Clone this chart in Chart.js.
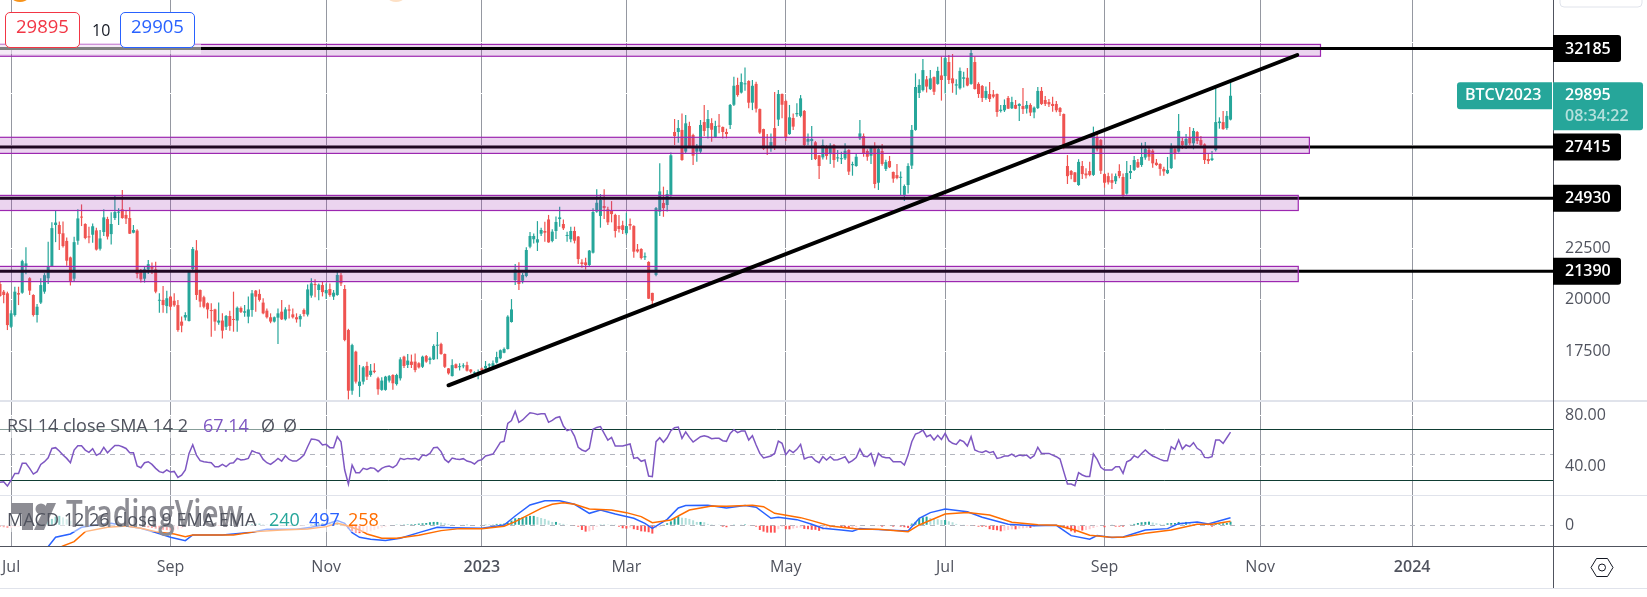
<!DOCTYPE html>
<html>
<head>
<meta charset="utf-8">
<title>BTCV2023</title>
<script src="https://cdn.jsdelivr.net/npm/chart.js@4"></script>
<style>
  html, body { margin: 0; padding: 0; background: #fff; overflow: hidden; }
  canvas { display: block; }
  .box { position: absolute; top: 12px; width: 73px; height: 34px; line-height: 34px; text-align: center;
         background: #fff; border: 1px solid; border-radius: 5px; font: 18.5px "Open Sans", sans-serif; }
  #sell { left: 5px; color: #f23645; border-color: #f23645; }
  #buy { left: 120px; color: #2962ff; border-color: #2962ff; }
  #qty { position: absolute; left: 92px; top: 12px; line-height: 36px; color: #131722; font: 16px/36px "Open Sans", sans-serif; }
</style>
</head>
<body>
<canvas id="chart" width="1647" height="597"></canvas>
<div class="box" id="sell">29895</div>
<div id="qty">10</div>
<div class="box" id="buy">29905</div>
<script>
// ===============================
// Data
// ===============================
const FONT = '"Open Sans", sans-serif';

const barLabels = Array.from({ length: 420 }, (_, i) => String(i));
const tickBars = [3, 46, 88, 130, 169, 212, 255, 298, 340, 381];
const tickLabels = ["Jul", "Sep", "Nov", "2023", "Mar", "May", "Jul", "Sep", "Nov", "2024"];
const priceTicks = [32500, 30000, 27500, 25000, 22500, 20000, 17500];
const priceLabels = [22500, 20000, 17500];
const rsiTicks = [80, 40];
const macdTicks = [0];

const open = [
  20770,20400,20320,18700,19270,20330,20350,21640,21050,20240,
  19270,19870,20400,21050,21640,23630,23630,23230,22860,22060,
  21030,22870,24020,23680,23080,23160,23370,22480,23290,23920,
  23190,23970,24230,24390,24120,23970,23260,23360,21450,21030,
  21480,21640,21480,19960,20000,19700,20160,19960,19750,18950,
  19150,18980,21500,22400,20480,20130,19840,19510,19540,18900,
  19000,18700,19220,19060,19000,19610,19380,19190,19510,20450,
  20290,19870,19480,19160,18950,19140,19430,19060,19540,19300,
  19160,19060,19510,19290,20210,20770,20480,20720,20320,20530,
  20160,20240,21200,20530,18540,15600,17490,15830,16040,16800,
  16360,16570,16200,15640,15640,16090,16360,15920,16200,17250,
  16850,17010,17010,
  16930,16760,17280,17090,17120,17780,17860,17380,16680,16310,
  16880,16740,16780,16840,16630,16440,16420,16680,16680,16820,
  16770,16960,17170,17440,17620,18930,20960,21320,20930,21160,
  22580,22940,22780,23210,23340,23900,22860,23340,23920,23680,
  23100,22940,23340,23070,21820,21820,21690,22290,24280,24070,
  24550,24390,24310,24120,23580,23620,23230,23680,23580,22450,
  22470,22060,21840,20340,21210,24280,24700,24600,25090,28140,
  28140,28240,27190,28430,27990,27190,27190,28620,28330,28570,
  27900,28430,28380,28140,28480,29460,30420,30050,30450,30610,
  29560,30470,29250,28280,27460,27430,28330,28740,29980,29640,
  28040,28820,29000,28920,29160,27670,27700,27640,27010,26910,
  27430,27070,27510,26860,26820,26860,27270,26530,26490,27830,
  27940,27220,26990,27350,25680,27220,26350,26730,26200,26050,
  25920,25090,25570,26510,28240,30030,30170,30690,30220,30800,
  30470,30880,30850,31530,30740,30390,30260,30720,30770,30470,
  31530,30470,30370,29790,29980,29960,29980,29160,29190,29790,
  29290,29450,29400,29400,29270,29450,29090,29300,30130,29690,
  29590,29500,29500,29300,29010,26490,26250,26180,25570,26490,
  26130,26250,26060,27880,27750,26100,26000,25810,25750,26250,
  25960,25150,26150,26300,26680,26540,26900,27270,27230,26650,
  26590,26350,26140,26390,27310,27190,27700,27510,27860,27590,
  28140,27750,27540,26830,26780,27270,28570,28620,28330,28740
];
const high = [
  20900,20480,20400,19500,20640,20640,21950,22550,21100,20280,
  19800,21050,21300,22820,23770,24320,23800,23800,23030,22100,
  23060,24390,24630,23720,23550,23710,23500,23390,24390,24030,
  24250,25040,24440,25330,24330,24490,23630,23420,21500,21640,
  21940,21810,21850,20320,20670,20450,20200,20320,20000,19200,
  19400,21450,22570,22900,20500,20200,19880,19840,19570,19870,
  19350,19270,19480,20400,19680,19680,19750,20160,20480,20480,
  20510,20080,19580,19350,19200,19590,20000,19640,19770,19590,
  19350,19300,19590,20750,21050,21000,20800,20900,20800,20800,
  20480,21350,21300,20720,18600,17870,17540,16850,16800,17000,
  16900,16930,16280,16250,16320,16360,16400,16420,17220,17300,
  17380,17350,17400,
  16980,17300,17330,17250,17850,18440,17920,17400,16700,17120,
  16920,16930,16930,17000,16640,16540,16630,16730,17040,16930,
  17060,17490,17600,17690,19260,20040,21740,21820,21300,22550,
  23290,23220,23820,23500,23790,24120,23420,24040,24520,23900,
  23310,23550,23550,23100,21970,22040,22420,24440,25360,25130,
  25360,24520,24790,24180,24120,23840,24230,23950,23620,22710,
  22500,22300,21870,20350,24500,26620,25490,25330,27150,28770,
  28720,29040,28960,28640,28050,27560,28720,29450,29200,28800,
  28690,29010,28400,28300,29500,30820,30770,30980,31260,30650,
  30660,30580,29280,28300,28040,28070,30080,30170,30000,29700,
  29450,29040,29530,29930,29200,28070,28430,27700,27030,27780,
  27500,27590,27560,27270,27180,27590,27300,26700,27070,28720,
  28070,27300,27450,27640,27400,27560,26800,26980,26230,26590,
  26220,25600,26620,28480,30980,30690,31680,30850,31140,30830,
  31300,31790,31790,31870,31920,30690,31270,31060,31240,32110,
  31790,30550,30420,30340,30560,30170,30000,29450,29720,29880,
  29850,29690,29530,30270,29640,29530,29380,30320,30320,29880,
  29740,29850,29640,29350,29030,27020,26300,26200,26820,26730,
  26380,26700,28400,28070,27800,26150,26170,26130,26130,26570,
  26130,26730,26540,26980,26830,27620,27650,27380,27300,26830,
  26620,26460,26930,27590,27400,29010,27860,28040,28380,28330,
  28190,27950,27590,27070,27220,30400,28850,29160,29160,30660
];
const low = [
  20150,19835,18540,18640,19200,19750,20300,21250,20240,19200,
  18900,19800,20300,20770,21600,22800,22420,22540,21660,20700,
  20900,22680,23580,22940,22750,22770,22400,22400,23100,22930,
  22690,23870,23630,23940,23680,23200,23230,21050,20840,20840,
  21260,21260,20320,19380,19380,19350,19500,19670,18460,18430,
  19000,18950,21400,20000,19650,19600,19100,18220,18510,18800,
  18130,18540,18510,18460,18460,19370,19190,18870,19190,19430,
  19920,19300,19100,18870,18900,17860,19030,19000,19100,19100,
  18900,18700,19200,19200,20100,20130,19990,20170,20050,20150,
  20000,20200,20680,18000,15180,15400,15950,15300,15900,16120,
  16280,16450,15400,15600,15600,16000,15650,15850,16100,16700,
  16700,16700,16500,
  16680,16700,16960,16880,17090,17120,17340,16700,16380,16290,
  16680,16580,16690,16530,16440,16370,16150,16440,16650,16690,
  16740,16920,17130,17420,17600,18900,20720,20480,20800,21100,
  22500,22740,22370,23100,22820,22770,22800,22950,23550,23390,
  22820,22800,22740,21740,21560,21480,21640,22250,24230,23500,
  23920,23630,23760,23020,23270,23200,23150,23400,22050,22290,
  21960,21930,20040,19750,21150,24070,24030,24280,25000,27510,
  27620,26740,27100,27400,26540,26700,27100,27950,27830,27670,
  27850,28080,27830,27830,28280,29400,29850,30000,30140,29290,
  29200,29080,28040,27270,27020,27180,27270,28430,28800,27700,
  28000,28240,28880,28850,27430,27500,26780,26780,25860,26810,
  26800,26590,26410,26700,26590,26780,26060,26020,26450,27750,
  26940,26750,26590,25410,25330,26500,26250,26390,25680,25850,
  25090,24800,25160,26350,28200,29790,30100,30050,30180,29930,
  30430,29660,30000,30470,30040,29950,30200,30300,30360,30430,
  30200,29790,29590,29700,29590,29770,28880,29080,29110,29250,
  29250,29250,28670,29010,29040,28920,28800,29250,29450,29400,
  29350,29120,29100,28910,27300,25620,25850,25700,25530,25860,
  25890,25990,26010,27200,26100,25440,25600,25380,25620,25900,
  25000,25100,25860,26250,26400,26450,26800,26750,26410,26500,
  26020,26020,26100,26350,26810,27150,27310,27310,27500,27300,
  27560,27430,26590,26590,26730,27200,28300,28250,28250,28700
];
const close = [
  20190,20240,18780,19350,20400,20260,21880,21770,20450,19270,
  19670,20720,21200,21610,23480,23750,23200,22610,21900,20920,
  22800,23950,23990,23000,23030,23570,22440,22980,24000,23070,
  23680,24260,24260,23970,23940,23210,23390,21260,21000,21480,
  21730,21510,20400,20000,19750,20080,19670,19740,18540,18750,
  19270,21370,22470,20240,19920,19670,19540,19460,18950,19000,
  18510,19220,18740,19030,19620,19420,19450,19540,20320,20160,
  20000,19350,19160,18950,19160,19350,19060,19540,19480,19160,
  19060,19220,19320,20510,20800,20720,20740,20380,20480,20240,
  20350,21210,20800,18060,15600,17810,16040,16040,16730,16280,
  16570,16510,15670,16090,16280,16310,15960,16360,17120,16800,
  17060,16850,16600,
  16730,17250,17010,17170,17770,17820,17380,16760,16440,16840,
  16700,16780,16810,16570,16520,16470,16460,16600,16800,16880,
  16930,17230,17560,17620,19190,19540,21480,20770,21210,22420,
  23100,23100,22940,23390,23260,22790,23310,23780,24000,23470,
  23150,23340,22870,21980,21740,21690,22390,24260,24710,24840,
  24460,23760,24160,23340,23440,23390,23580,23600,22340,22350,
  22030,22120,20060,19960,24450,25260,24450,25130,27010,27940,
  28330,26780,28560,27430,26990,27400,28480,28190,28770,28250,
  28430,28400,28140,28040,29450,30380,29930,30560,30500,29560,
  30380,29270,28110,27330,27400,27650,27400,29980,29460,27880,
  28850,28400,29060,29770,27510,27800,27800,26830,26490,27510,
  26980,27480,26780,26910,26870,27230,26220,26580,26940,28070,
  27100,26940,27430,25620,27310,26590,26680,26430,25880,25910,
  25960,25520,26490,28240,30320,30420,31140,30340,30740,30090,
  31100,30660,31720,30660,30500,30450,31100,30790,30390,31970,
  30220,29980,29790,30130,29740,29850,29110,29220,29450,29270,
  29590,29270,29500,29250,29450,29080,29320,30130,29500,29500,
  29480,29400,29190,29110,27510,26000,26060,25720,26690,26100,
  26040,26060,27950,27300,26260,25680,25700,25680,26000,26000,
  25050,26150,26250,26780,26430,26930,27310,26940,26620,26540,
  26350,26230,26300,27380,27070,28190,27510,27800,27590,28190,
  27700,27510,26780,26730,26860,28620,28650,28280,28920,29895
];

const rsiValues = [
  27.8,28.3,24.9,29.6,34.8,34.8,42.7,42.7,38.8,34.3,
  36.2,41.9,44.0,47.1,54.4,55.0,52.4,49.2,46.6,43.2,
  53.1,56.5,56.5,53.1,51.3,54.2,49.0,50.5,55.2,51.0,
  53.9,56.8,56.8,55.7,54.4,51.0,51.0,40.6,39.3,43.2,
  44.0,41.9,38.8,36.2,35.4,37.5,35.9,36.4,31.7,33.5,
  37.5,50.5,57.3,49.2,44.8,44.0,43.5,43.2,40.1,40.1,
  41.9,40.1,42.7,43.2,46.6,45.3,45.8,46.6,52.6,51.3,
  50.5,45.8,43.2,41.9,44.0,46.6,44.5,48.7,45.8,44.5,
  44.5,46.6,49.2,55.7,61.8,61.5,60.5,57.1,57.6,55.0,
  55.0,63.6,59.7,37.5,26.5,41.4,35.4,35.4,38.8,38.0,
  39.3,38.8,36.2,38.8,40.1,40.6,39.3,41.4,46.6,45.8,
  46.6,46.1,46.6,45.3,
  49.2,48.7,50.5,55.0,55.3,51.9,45.8,43.5,46.9,46.1,
  45.8,46.4,44.5,43.8,42.2,44.8,45.6,48.5,49.2,50.0,
  54.5,59.2,60.0,74.1,76.2,83.5,74.9,76.7,79.6,82.4,
  81.9,81.1,81.6,81.6,74.9,76.4,78.5,79.3,72.0,68.3,
  69.4,64.1,55.3,53.2,52.1,54.5,69.4,70.9,71.5,66.2,
  61.0,63.1,56.3,56.3,56.3,57.1,57.9,46.6,47.2,44.3,
  45.3,32.8,32.3,59.7,62.8,59.2,62.8,68.3,70.7,71.2,
  62.3,67.3,63.1,59.4,61.5,63.6,64.4,63.6,62.1,62.3,
  62.3,60.5,60.0,66.2,69.1,66.8,68.1,68.1,61.0,64.4,
  57.1,50.5,46.9,47.7,48.5,50.5,60.2,58.4,49.5,53.2,
  51.1,53.7,57.6,46.1,47.4,47.9,44.8,43.2,47.9,45.3,
  47.9,45.3,45.6,
  46.6,47.9,43.2,44.8,47.2,53.9,48.5,47.9,50.5,41.4,
  50.5,47.9,47.2,47.2,44.0,44.0,44.0,41.4,49.2,59.7,
  65.7,66.8,68.8,63.6,64.9,61.0,64.7,61.5,66.2,60.5,
  58.4,57.6,61.0,59.7,56.3,63.6,53.2,51.9,51.3,52.6,
  51.1,51.9,46.6,47.2,48.5,48.5,50.0,47.9,49.2,48.7,
  49.2,46.6,48.7,55.3,50.5,50.5,50.5,49.2,47.9,46.1,
  36.2,26.5,26.5,25.2,35.4,33.6,32.5,32.5,50.0,45.8,
  39.6,37.5,37.5,37.5,40.1,40.1,34.9,44.0,45.3,48.7,
  47.2,50.5,53.2,50.5,48.5,47.2,45.8,44.8,44.8,55.8,
  53.7,61.0,53.9,57.1,55.8,58.9,54.5,52.6,47.4,47.2,
  47.9,61.0,61.0,58.4,62.8,67.14
];
const rsiGuides = [70, 30];
const rsiMiddle = 50;

const macdHist = [
  -90,-130,-180,-160,-120,-100,-60,-40,-20,20,
  60,100,160,260,420,560,620,520,400,300,
  220,160,120,80,60,40,20,10,0,-10,
  -20,-30,-40,-30,-20,-10,-10,-30,-60,-100,
  -140,-180,-220,-260,-300,-320,-350,-330,-280,-200,
  -100,-60,-20,10,30,30,20,10,0,-10,
  -10,10,20,30,30,40,40,60,80,100,
  110,80,60,40,20,10,0,0,-10,-10,
  -20,-20,-10,20,60,100,120,130,120,100,
  150,180,120,-60,-220,-400,-480,-520,-500,-460,
  -400,-320,-240,-160,-80,-40,0,20,40,50,
  60,70,80,110,
  130,150,200,220,220,180,130,90,60,40,
  20,10,10,0,0,0,0,10,20,20,
  90,90,110,180,310,460,480,530,570,620,
  620,550,480,420,310,220,220,130,90,20,
  0,-44,-90,-310,-420,-400,-310,-90,20,20,
  40,20,40,-90,-200,-220,-150,-260,-310,-400,
  -420,-460,-550,-200,-110,20,130,260,460,590,
  500,480,420,330,220,220,200,90,60,40,
  20,-90,-130,-44,20,0,40,60,-40,-40,
  -90,-310,-420,-484,-484,-490,-260,-90,-260,-270,
  -220,-180,-150,-240,-260,-300,-300,-370,-310,-220,
  -200,-130,-90,
  -130,-180,-220,-180,-130,-20,0,0,0,0,
  -20,-90,-40,-40,-90,-40,-90,-130,-180,
  110,220,440,530,570,480,440,400,350,350,
  260,200,90,40,20,-20,0,-20,-90,-90,
  -90,-260,-310,-330,-400,-350,-310,-270,-270,-220,
  -200,-180,-180,-90,-44,-44,-20,0,-20,-20,
  -90,-130,-260,-400,-484,-350,-350,-310,-260,-180,
  -90,0,-130,-40,40,-90,-90,-90,0,20,
  90,150,200,220,240,180,130,90,60,130,
  150,150,220,180,220,200,90,40,40,0,
  -20,-90,90,110,130,150,240
];
const macdBars = [
  2, 8, 13, 15, 19, 22, 26, 30, 34, 38, 42, 46, 50, 52, 60, 68, 72, 80, 84, 88, 91, 93, 95, 97, 100, 104, 108,
  113, 118, 122, 130, 136, 139, 143, 147, 151, 155, 159, 162, 166, 171, 174, 176, 180, 183, 185, 191, 196, 201, 204, 208, 210, 215, 219, 222,
  227, 230, 232, 237, 245, 248, 251, 255, 261, 265, 272, 279, 285, 289, 294, 296, 300, 303, 309, 315, 318, 323, 326, 332
];
const macdLine = [
  -3600, -2400, -1410, -794, -574, -134, 20, 130, -46, -200, -486, -794, -1014, -640, -640, -464, -266, -266, -134, 64, 306, 130, -486, -794, -926, -1014, -860,
  -486, -134, -156, -200, 20, 614, 1340, 1626, 1626, 1384, 790, 1010, 746, 460, 130, -200, 394, 1142, 1306, 1328, 1142, 1306, 1196, 460, 526, 372, 64, -200,
  -310, -398, -222, -288, -376, 460, 834, 1076, 890, 526, 64, -24, 0, -684, -926, -684, -816, -772, -310, -222, 108, 218, 86, 497
];
const signalBars = [
  4, 10, 17, 20, 23, 29, 34, 38, 42, 47, 50, 52, 63, 69, 76, 83, 88, 91, 93, 97, 99, 103, 107,
  113, 119, 124, 130, 136, 139, 146, 149, 152, 155, 159, 165, 169, 173, 176, 181, 186, 192, 196, 203, 206, 209, 216, 219, 224,
  227, 232, 237, 245, 248, 255, 261, 267, 273, 280, 285, 290, 294, 299, 303, 309, 316, 323, 327, 332
];
const signalLine = [
  -3000, -2200, -1366, -1080, -420, -134, -46, -200, -420, -574, -750, -640, -640, -420, -310, -244, -90, 130, 20, -310, -574, -860, -860,
  -662, -354, -222, -222, -68, 240, 1120, 1384, 1494, 1384, 1076, 1010, 834, 570, 174, 350, 1010, 1274, 1252, 1318, 1230, 790, 504, 306, -46,
  -134, -266, -266, -420, 20, 746, 850, 680, 196, 42, 0, -310, -662, -772, -794, -530, -310, 64, 64, 258
];

const levels = [32185, 27415, 24930, 21390];
const bandTops = [32385, 27882, 25066, 21625];
const bandBottoms = [31810, 27102, 24334, 20888];
const bandEnds = [356, 353, 350, 350];
const trendBars = [121, 350];
const trendPrices = [15862, 31871];

const lastPrice = 29895;
const symbol = "BTCV2023";
const countdown = "08:34:22";

// ===============================
// Helpers
// ===============================
const UP = "#26a69a";
const DOWN = "#ef5350";
const TEXT = "#50535e";
const PANE_LINE = "#e0e3eb";

const candleColors = open.map((o, i) => (close[i] >= o ? UP : DOWN));

const histColors = macdHist.map((v, i) => {
  const prev = i > 0 ? macdHist[i - 1] : 0;
  if (v >= 0) return v >= prev ? "#26a69a" : "#b2dfdb";
  return v <= prev ? "#ff5252" : "#ffcdd2";
});

const sparse = (bars, values) => {
  const out = barLabels.map(() => null);
  bars.forEach((b, i) => { out[b] = values[i]; });
  return out;
};

const fixAxis = size => scale => {
  scale.paddingLeft = scale.paddingRight = scale.paddingTop = scale.paddingBottom = 0;
  if (scale.isHorizontal()) scale.height = size; else scale.width = size;
};

const yAxis = (min, max, weight, ticks, label) => ({
  type: "linear",
  position: "right",
  stack: "panes",
  stackWeight: weight,
  min,
  max,
  border: { display: false },
  grid: { color: "#ffffff", lineWidth: 1, drawTicks: false, z: -1 },
  afterBuildTicks: s => { s.ticks = ticks.map(value => ({ value })); },
  afterFit: fixAxis(94),
  ticks: {
    padding: 12,
    autoSkip: false,
    color: TEXT,
    font: { family: FONT, size: 16 },
    callback: label
  }
});

// ===============================
// Drawings on top of the library's marks
// ===============================
const drawings = {
  id: "drawings",
  beforeDatasetsDraw(chart) {
    const { ctx, scales, chartArea } = chart;
    const rsi = scales.yRsi, macd = scales.yMacd;

    // RSI bounds and middle lines
    ctx.save();
    ctx.lineWidth = 1;
    ctx.strokeStyle = "#0f3d33";
    rsiGuides.forEach(v => {
      const y = Math.round(rsi.getPixelForValue(v)) + 0.5;
      ctx.beginPath(); ctx.moveTo(chartArea.left, y); ctx.lineTo(chartArea.right, y); ctx.stroke();
    });
    ctx.strokeStyle = "#b2b5be";
    ctx.setLineDash([5, 5]);
    [rsi.getPixelForValue(rsiMiddle), macd.getPixelForValue(0)].forEach(p => {
      const y = Math.round(p) + 0.5;
      ctx.beginPath(); ctx.moveTo(chartArea.left, y); ctx.lineTo(chartArea.right, y); ctx.stroke();
    });
    ctx.restore();
  },
  afterDatasetsDraw(chart) {
    const { ctx, scales, chartArea } = chart;
    const x = scales.x, y = scales.y;

    ctx.save();
    ctx.strokeStyle = "#000";
    ctx.lineWidth = 3;
    levels.forEach(v => {
      const py = y.getPixelForValue(v);
      ctx.beginPath(); ctx.moveTo(chartArea.left, py); ctx.lineTo(chartArea.right, py); ctx.stroke();
    });

    ctx.fillStyle = "rgba(156,39,176,0.2)";
    ctx.strokeStyle = "#9c27b0";
    ctx.lineWidth = 1.2;
    bandTops.forEach((top, i) => {
      const py = y.getPixelForValue(top);
      const h = y.getPixelForValue(bandBottoms[i]) - py;
      const w = x.getPixelForValue(bandEnds[i]) + 1;
      ctx.fillRect(-2, py, w + 2, h);
      ctx.strokeRect(-2, py, w + 2, h);
    });

    ctx.strokeStyle = "#000";
    ctx.lineWidth = 3;
    const topLevel = y.getPixelForValue(levels[0]);
    ctx.beginPath(); ctx.moveTo(chartArea.left, topLevel); ctx.lineTo(chartArea.right, topLevel); ctx.stroke();

    ctx.lineWidth = 4;
    ctx.lineCap = "round";
    ctx.beginPath();
    ctx.moveTo(x.getPixelForValue(trendBars[0]), y.getPixelForValue(trendPrices[0]));
    ctx.lineTo(x.getPixelForValue(trendBars[1]), y.getPixelForValue(trendPrices[1]));
    ctx.stroke();
    ctx.restore();
  },
  afterDraw(chart) {
    const { ctx, scales, chartArea } = chart;
    const y = scales.y;
    const W = chart.width;

    const text = (str, px, py, color, font) => {
      ctx.fillStyle = color;
      ctx.font = font;
      ctx.textBaseline = "middle";
      ctx.textAlign = "left";
      ctx.fillText(str, px, py);
    };

    ctx.save();
    // veils behind the order box and the two legends
    ctx.fillStyle = "rgba(255,255,255,0.5)";
    ctx.fillRect(0, 44, 201, 10);
    ctx.fillRect(0, 416, 300, 22);
    ctx.fillRect(0, 509, 383, 23);

    // watermark
    ctx.save();
    ctx.fillStyle = "#8d8d94";
    ctx.fillRect(11, 503, 22, 11);
    ctx.fillRect(22, 503, 11, 27);
    ctx.beginPath();
    ctx.arc(41, 509, 5.5, 0, Math.PI * 2);
    ctx.fill();
    ctx.beginPath();
    ctx.moveTo(47, 503); ctx.lineTo(56, 503); ctx.lineTo(44, 530); ctx.lineTo(34, 530);
    ctx.fill();
    ctx.translate(66, 516);
    ctx.scale(0.78, 1);
    ctx.font = `600 38px ${FONT}`;
    ctx.textBaseline = "middle";
    ctx.fillText("TradingView", 0, 0);
    ctx.restore();

    // pane separators and axis lines
    ctx.fillStyle = PANE_LINE;
    ctx.fillRect(0, 400, W, 2);
    ctx.fillRect(0, 495, W, 1);
    ctx.fillRect(0, 588, W, 1);
    ctx.fillStyle = TEXT;
    ctx.fillRect(0, 546, W, 1);
    ctx.fillRect(chartArea.right, 0, 1, 588);

    // legends
    const small = `18px ${FONT}`;
    text("RSI 14 close SMA 14 2", 7, 427, TEXT, small);
    text("67.14", 203, 427, "#7e57c2", small);
    text("Ø", 261, 427, TEXT, small);
    text("Ø", 283, 427, TEXT, small);
    text("MACD 12 26 close 9 EMA EMA", 7, 521, TEXT, small);
    text("240", 269, 521, UP, small);
    text("497", 309, 521, "#2962ff", small);
    text("258", 348, 521, "#ff6d00", small);

    // level tags
    levels.forEach(v => {
      const py = y.getPixelForValue(v);
      ctx.fillStyle = "#000";
      ctx.beginPath();
      ctx.roundRect(chartArea.right, py - 13.5, 68, 27, [0, 3, 3, 0]);
      ctx.fill();
      text(String(v), 1565, py + 0.5, "#fff", `600 16px ${FONT}`);
    });

    // last price tag
    const lastY = y.getPixelForValue(lastPrice);
    ctx.fillStyle = UP;
    ctx.beginPath();
    ctx.roundRect(1457, lastY - 13.5, 95, 27, [3, 0, 0, 3]);
    ctx.fill();
    ctx.beginPath();
    ctx.roundRect(chartArea.right, lastY - 13.5, 90, 48, [0, 3, 3, 0]);
    ctx.fill();
    text(symbol, 1465, lastY, "#fff", `600 16px ${FONT}`);
    text(String(lastPrice), 1565, lastY, "#fff", `600 16px ${FONT}`);
    text(countdown, 1565, lastY + 21, "rgba(255,255,255,0.65)", `600 16px ${FONT}`);

    // settings icon
    const cx = 1602, cy = 567.5, r = 11;
    ctx.strokeStyle = "#131722";
    ctx.lineWidth = 1;
    ctx.beginPath();
    [[-r, 0], [-r / 2, -9], [r / 2, -9], [r, 0], [r / 2, 9], [-r / 2, 9]].forEach(([dx, dy], i) => {
      if (i === 0) ctx.moveTo(cx + dx, cy + dy); else ctx.lineTo(cx + dx, cy + dy);
    });
    ctx.closePath();
    ctx.stroke();
    ctx.beginPath();
    ctx.arc(cx, cy, 3.5, 0, Math.PI * 2);
    ctx.stroke();

    // slivers of the window above the crop
    ctx.fillStyle = "#f7931a";
    ctx.beginPath(); ctx.ellipse(20, -1, 7, 3, 0, 0, Math.PI * 2); ctx.fill();
    ctx.fillStyle = "#fde0c5";
    ctx.beginPath(); ctx.ellipse(396, -1, 7, 3, 0, 0, Math.PI * 2); ctx.fill();
    ctx.strokeStyle = PANE_LINE;
    ctx.beginPath(); ctx.roundRect(1560, -10, 82, 17, 4); ctx.stroke();
    ctx.restore();
  }
};

// ===============================
// Chart
// ===============================
new Chart(document.getElementById("chart"), {
  data: {
    labels: barLabels,
    datasets: [
      { type: "bar", yAxisID: "y", order: 5, data: low.map((v, i) => [v, high[i]]),
        backgroundColor: candleColors, barThickness: 1.2, inflateAmount: 0, grouped: false },
      { type: "bar", yAxisID: "y", order: 4, data: open.map((v, i) => [v, close[i]]),
        backgroundColor: candleColors, barThickness: 3, inflateAmount: 0, minBarLength: 1, grouped: false },
      { type: "line", yAxisID: "yRsi", order: 3, data: rsiValues, borderColor: "#7e57c2", borderWidth: 1.5,
        pointRadius: 0, tension: 0 },
      { type: "bar", yAxisID: "yMacd", order: 2, data: macdHist, backgroundColor: histColors,
        barThickness: 2, inflateAmount: 0, grouped: false },
      { type: "line", yAxisID: "yMacd", order: 1, data: sparse(macdBars, macdLine), borderColor: "#2962ff", borderWidth: 1.5,
        pointRadius: 0, spanGaps: true, tension: 0 },
      { type: "line", yAxisID: "yMacd", order: 0, data: sparse(signalBars, signalLine), borderColor: "#ff6d00", borderWidth: 1.5,
        pointRadius: 0, spanGaps: true, tension: 0 }
    ]
  },
  options: {
    responsive: false,
    animation: false,
    devicePixelRatio: 1,
    layout: { padding: { left: 0, right: 0, top: 0, bottom: 9 } },
    plugins: { legend: { display: false }, title: { display: false }, tooltip: { enabled: false } },
    scales: {
      x: {
        type: "category",
        offset: false,
        border: { display: false },
        grid: { color: "#9598a1", lineWidth: 1, drawTicks: false, offset: false, z: -2 },
        afterBuildTicks: s => { s.ticks = tickBars.map(value => ({ value })); },
        afterFit: fixAxis(42),
        ticks: {
          autoSkip: false,
          maxRotation: 0,
          padding: 12,
          color: TEXT,
          font: ctx => ({ family: FONT, size: 16, weight: /^\d+$/.test(ctx.tick && ctx.tick.label) ? 600 : 400 }),
          callback: (v, i) => tickLabels[i]
        }
      },
      y: yAxis(15101, 34537, 401, priceTicks, v => (priceLabels.includes(v) ? String(v) : "")),
      yRsi: yAxis(17.9, 91.6, 94, rsiTicks, v => v.toFixed(2)),
      yMacd: yAxis(-1370, 2000, 51, macdTicks, v => String(v))
    }
  },
  plugins: [drawings]
});
</script>
</body>
</html>
